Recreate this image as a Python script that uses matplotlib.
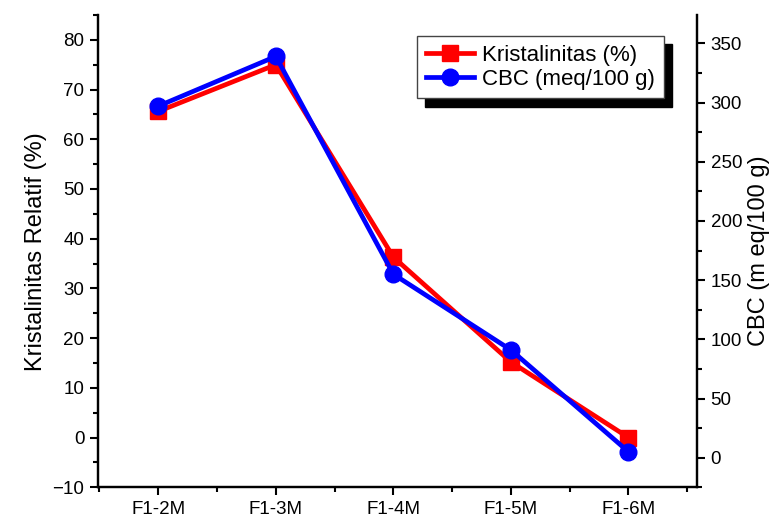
import matplotlib
matplotlib.use("Agg")
import matplotlib.pyplot as plt
from matplotlib.ticker import MultipleLocator

plt.rcParams["font.family"] = ["Liberation Sans", "DejaVu Sans"]

# data
samples = ["F1-2M", "F1-3M", "F1-4M", "F1-5M", "F1-6M"]
kristalinitas = [65.6, 75.0, 36.3, 15.2, 0.0]
cbc = [297, 339, 155, 91, 5]

x = list(range(1, len(samples) + 1))

fig = plt.figure(figsize=(7.84, 5.22), dpi=100)
ax = fig.add_axes([0.1254, 0.0665, 0.7632, 0.9048])
ax2 = ax.twinx()

# left axis: crystallinity
l1, = ax.plot(x, kristalinitas, color="#ff0000", lw=3.4, marker="s", ms=11,
              label="Kristalinitas (%)", zorder=3)
# right axis: CBC
l2, = ax2.plot(x, cbc, color="#0000ff", lw=3.4, marker="o", ms=12,
               label="CBC (meq/100 g)", zorder=3)

ax.set_xlim(0.49, 5.58)
ax.set_ylim(-10, 85)
ax2.set_ylim(-25, 374)

ax.set_xticks(x)
ax.set_xticklabels(samples)
ax.xaxis.set_minor_locator(MultipleLocator(0.5))
ax.yaxis.set_major_locator(MultipleLocator(10))
ax.yaxis.set_minor_locator(MultipleLocator(5))
ax2.yaxis.set_major_locator(MultipleLocator(50))
ax2.yaxis.set_minor_locator(MultipleLocator(25))

for a in (ax, ax2):
    a.spines["top"].set_visible(False)
    for s in a.spines.values():
        s.set_linewidth(1.6)
    a.tick_params(which="major", direction="out", length=6, width=1.5,
                  labelsize=13.5, pad=4)
    a.tick_params(which="minor", direction="out", length=3.5, width=1.5)

ax.set_ylabel("Kristalinitas Relatif (%)", fontsize=17, labelpad=4)
ax2.set_ylabel("CBC (m eq/100 g)", fontsize=17, labelpad=4)

# legend with solid black drop shadow, like the Origin original
leg = ax2.legend(handles=[l1, l2], loc="upper right",
                 bbox_to_anchor=(664 / 784, 1 - 36 / 522),
                 bbox_transform=fig.transFigure, borderaxespad=0,
                 fontsize=16, fancybox=False, framealpha=1,
                 edgecolor="#444444", handlelength=2.2, handletextpad=0.35,
                 borderpad=0.4, labelspacing=0.12,
                 shadow={"color": "black", "alpha": 1, "ox": 6, "oy": -6})
leg.get_frame().set_linewidth(1.0)

fig.savefig("out.png", dpi=100)
plt.close(fig)
